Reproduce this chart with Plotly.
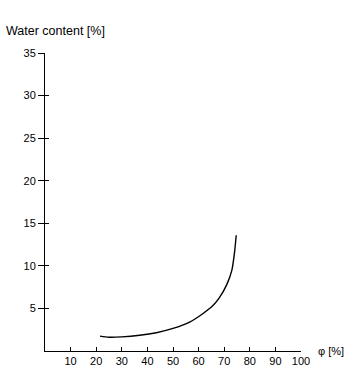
import plotly.graph_objects as go

phi = [21.5, 25, 30, 37, 43.5, 50, 56.5, 61.5, 65.5, 68, 71, 73, 74, 74.7]
water = [1.75, 1.62, 1.66, 1.85, 2.15, 2.65, 3.4, 4.35, 5.3, 6.2, 7.8, 9.5, 11.5, 13.6]

x_ticks = [10, 20, 30, 40, 50, 60, 70, 80, 90, 100]
y_ticks = [5, 10, 15, 20, 25, 30, 35]

FONT = "Liberation Sans, Arial, sans-serif"

fig = go.Figure()
fig.add_trace(go.Scatter(x=phi, y=water, mode="lines",
                         line=dict(color="black", width=1.4, shape="spline", smoothing=0.8),
                         showlegend=False, hoverinfo="skip"))
# invisible trace so the secondary (inside-tick) y axis is drawn
fig.add_trace(go.Scatter(x=[phi[0]], y=[water[0]], xaxis="x", yaxis="y2", mode="markers",
                         marker=dict(opacity=0), showlegend=False, hoverinfo="skip"))

fig.update_layout(
    width=351, height=389,
    margin=dict(l=45, r=50, t=53, b=38),
    paper_bgcolor="white", plot_bgcolor="white",
    font=dict(family=FONT, size=11, color="black"),
    xaxis=dict(range=[0, 100], tickvals=x_ticks, ticks="inside", ticklen=4,
               tickcolor="black", showline=True, linecolor="black", linewidth=1,
               showgrid=False, zeroline=False, tickfont=dict(size=11)),
    yaxis=dict(range=[0, 35], tickvals=y_ticks, ticks="outside", ticklen=6,
               tickcolor="black", showline=True, linecolor="black", linewidth=1,
               showgrid=False, zeroline=False, tickfont=dict(size=11)),
    yaxis2=dict(overlaying="y", anchor="x", range=[0, 35], tickvals=y_ticks,
                ticks="inside", ticklen=4, tickcolor="black", showticklabels=False,
                showline=False, showgrid=False, zeroline=False, side="left"),
    annotations=[
        dict(text="Water content [%]", xref="paper", yref="paper", x=-0.16, y=1.073,
             xanchor="left", yanchor="middle", showarrow=False, font=dict(size=12.5)),
        dict(text="φ [%]", xref="paper", yref="paper", x=1.059, y=0.0,
             xanchor="left", yanchor="middle", showarrow=False, font=dict(size=11)),
    ],
)

fig.write_html("out.html")
